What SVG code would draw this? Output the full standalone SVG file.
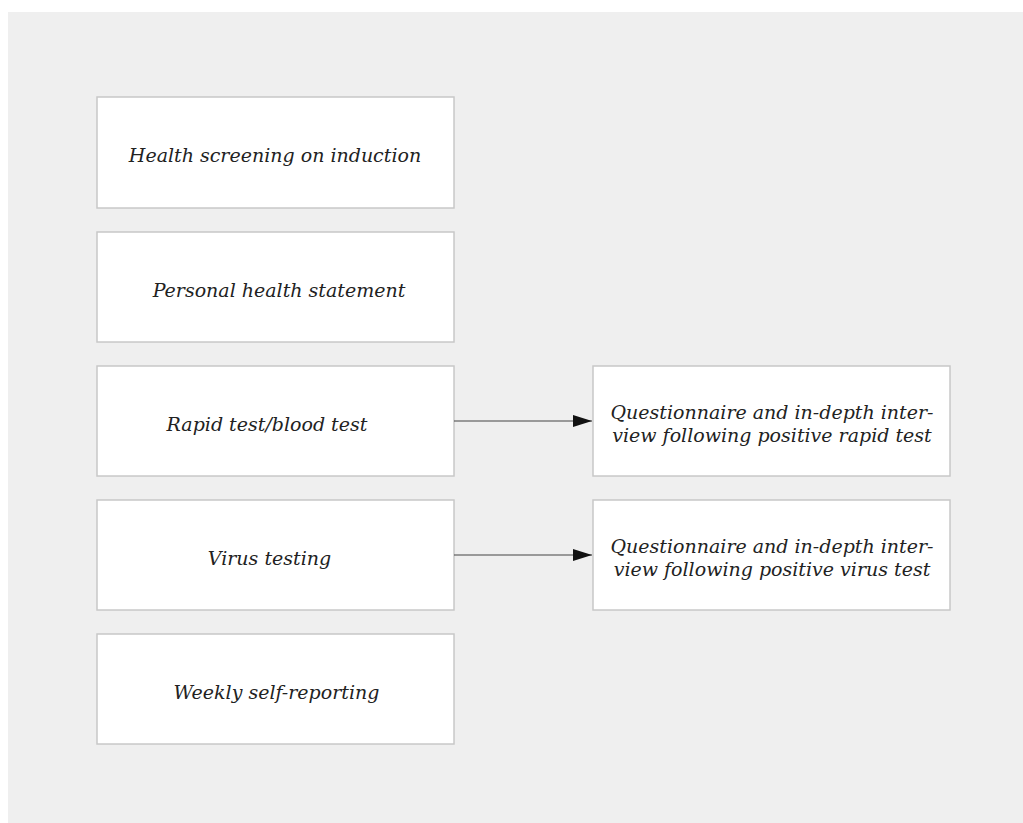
<svg xmlns="http://www.w3.org/2000/svg" width="1023" height="823" viewBox="0 0 1023 823">
<style>
.bg{fill:#efefef}
.box{fill:#ffffff;stroke:#c8c8c8;stroke-width:1.5}
.t{font-family:"DejaVu Serif","Liberation Serif",serif;font-style:italic;font-size:19px;fill:#222;text-anchor:middle}
.c{stroke:#444;stroke-width:1.2;fill:none}
</style>
<defs>
<marker id="arr" markerWidth="19" markerHeight="12" refX="19" refY="6" orient="auto" markerUnits="userSpaceOnUse">
<path d="M0,0 L19,6 L0,12 Z" fill="#111"/>
</marker>
</defs>
<rect class="bg" x="8" y="12" width="1015" height="811"/>
<g id="n1"><rect class="box" x="97" y="97" width="357" height="111"/><text class="t" x="275" y="162">Health screening on induction</text></g>
<g id="n2"><rect class="box" x="97" y="232" width="357" height="110"/><text class="t" x="279" y="297">Personal health statement</text></g>
<g id="n3"><rect class="box" x="97" y="366" width="357" height="110"/><text class="t" x="267" y="431">Rapid test/blood test</text></g>
<g id="n4"><rect class="box" x="97" y="500" width="357" height="110"/><text class="t" x="269.5" y="565">Virus testing</text></g>
<g id="n5"><rect class="box" x="97" y="634" width="357" height="110"/><text class="t" x="276.5" y="699">Weekly self-reporting</text></g>
<g id="n6"><rect class="box" x="593" y="366" width="357" height="110"/><text class="t" x="772" y="419">Questionnaire and in-depth inter-</text><text class="t" x="772" y="442">view following positive rapid test</text></g>
<g id="n7"><rect class="box" x="593" y="500" width="357" height="110"/><text class="t" x="772" y="553">Questionnaire and in-depth inter-</text><text class="t" x="772" y="576">view following positive virus test</text></g>
<g id="connectors">
<line class="c" x1="454" y1="421" x2="592" y2="421" marker-end="url(#arr)"/>
<line class="c" x1="454" y1="555" x2="592" y2="555" marker-end="url(#arr)"/>
</g>
</svg>
